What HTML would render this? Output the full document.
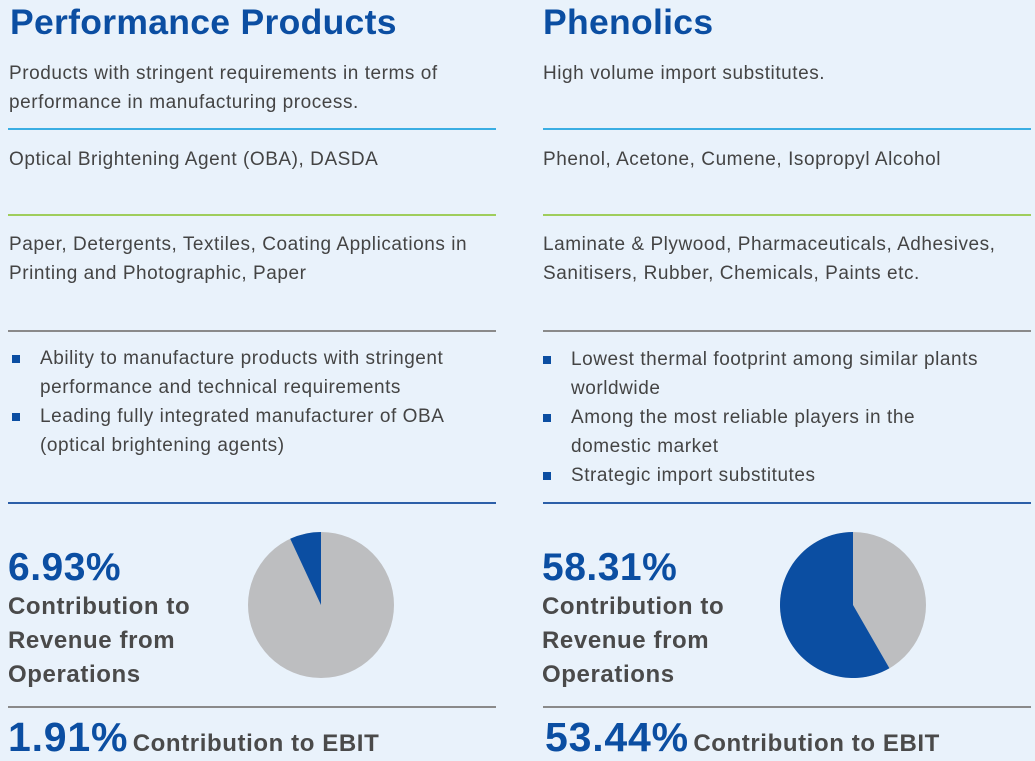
<!DOCTYPE html>
<html><head><meta charset="utf-8"><style>
body{margin:0;width:1035px;height:759px;overflow:hidden;background:#e9f2fb;font-family:"Liberation Sans",sans-serif;color:#444;position:relative}
.a{position:absolute}
h1{position:absolute;margin:0;font-size:35.5px;font-weight:bold;color:#0b4ea2;top:2px;letter-spacing:0.3px}
.t{position:absolute;font-size:19px;line-height:29px;color:#444;white-space:nowrap;letter-spacing:0.55px}
.ln{position:absolute;height:2px}
.big{position:absolute;font-size:39px;font-weight:bold;color:#0b4ea2;letter-spacing:0.5px}
.lbl{position:absolute;font-size:24px;font-weight:bold;line-height:34px;color:#4a4a4a;letter-spacing:0.6px}
ul{list-style:none;margin:0;padding:0}
li{position:relative;padding-left:31px}
li:before{content:"";position:absolute;left:3px;top:11px;width:8px;height:8px;background:#0b4ea2}
</style></head><body>
<h1 style="left:10px">Performance Products</h1>
<h1 style="left:543px">Phenolics</h1>

<div class="t" style="left:9px;top:59px">Products with stringent requirements in terms of<br>performance in manufacturing process.</div>
<div class="t" style="left:543px;top:59px">High volume import substitutes.</div>

<div class="ln" style="left:8px;width:488px;top:128px;background:#3aaee3"></div>
<div class="ln" style="left:543px;width:488px;top:128px;background:#3aaee3"></div>

<div class="t" style="left:9px;top:145px">Optical Brightening Agent (OBA), DASDA</div>
<div class="t" style="left:543px;top:145px">Phenol, Acetone, Cumene, Isopropyl Alcohol</div>

<div class="ln" style="left:8px;width:488px;top:214px;background:#9fcd5c"></div>
<div class="ln" style="left:543px;width:488px;top:214px;background:#9fcd5c"></div>

<div class="t" style="left:9px;top:230px">Paper, Detergents, Textiles, Coating Applications in<br>Printing and Photographic, Paper</div>
<div class="t" style="left:543px;top:230px">Laminate &amp; Plywood, Pharmaceuticals, Adhesives,<br>Sanitisers, Rubber, Chemicals, Paints etc.</div>

<div class="ln" style="left:8px;width:488px;top:330px;background:#8a8a8a"></div>
<div class="ln" style="left:543px;width:488px;top:330px;background:#8a8a8a"></div>

<ul class="t" style="left:9px;top:344px">
<li>Ability to manufacture products with stringent<br>performance and technical requirements</li>
<li>Leading fully integrated manufacturer of OBA<br>(optical brightening agents)</li></ul>
<ul class="t" style="left:540px;top:345px">
<li>Lowest thermal footprint among similar plants<br>worldwide</li>
<li>Among the most reliable players in the<br>domestic market</li>
<li>Strategic import substitutes</li></ul>

<div class="ln" style="left:8px;width:488px;top:502px;background:#2c5fa8"></div>
<div class="ln" style="left:543px;width:488px;top:502px;background:#2c5fa8"></div>

<div class="big" style="left:8px;top:546px">6.93%</div>
<div class="big" style="left:542px;top:546px">58.31%</div>
<div class="lbl" style="left:8px;top:590px">Contribution to<br>Revenue from<br>Operations</div>
<div class="lbl" style="left:542px;top:590px">Contribution to<br>Revenue from<br>Operations</div>

<svg class="a" style="left:0;top:0" width="1035" height="759" id="pies"></svg>

<div class="ln" style="left:8px;width:488px;top:706px;background:#8a8a8a"></div>
<div class="ln" style="left:543px;width:488px;top:706px;background:#8a8a8a"></div>

<div class="a" style="left:8px;top:714px;white-space:nowrap"><span style="font-size:41px;font-weight:bold;color:#0b4ea2;letter-spacing:0.8px">1.91%</span> <span style="font-size:24px;font-weight:bold;color:#4a4a4a;letter-spacing:0.6px">Contribution to EBIT</span></div>
<div class="a" style="left:545px;top:714px;white-space:nowrap"><span style="font-size:41px;font-weight:bold;color:#0b4ea2;letter-spacing:0.8px">53.44%</span> <span style="font-size:24px;font-weight:bold;color:#4a4a4a;letter-spacing:0.6px">Contribution to EBIT</span></div>

<script>
const segments = ["Performance Products", "Phenolics"];
const shares = [6.93, 58.31];
const centersX = [321, 853];
const cy = 605, r = 73;
const svg = document.getElementById('pies');
const NS = 'http://www.w3.org/2000/svg';
function pt(cx, frac){ const a = -Math.PI/2 - frac*2*Math.PI; return [cx + r*Math.cos(a), cy + r*Math.sin(a)]; }
shares.forEach((v,i)=>{
  const cx = centersX[i], f = v/100;
  const c = document.createElementNS(NS,'circle');
  c.setAttribute('cx',cx);c.setAttribute('cy',cy);c.setAttribute('r',r);c.setAttribute('fill','#bdbec0');
  
  
  svg.appendChild(c);
  const p = pt(cx,f);
  const large = f > 0.5 ? 1 : 0;
  const path = document.createElementNS(NS,'path');
  path.setAttribute('d',`M${cx},${cy} L${cx},${cy-r} A${r},${r} 0 ${large} 0 ${p[0]},${p[1]} Z`);
  path.setAttribute('fill','#0b4ea2');
  
  
  svg.appendChild(path);
});
</script>
</body></html>
